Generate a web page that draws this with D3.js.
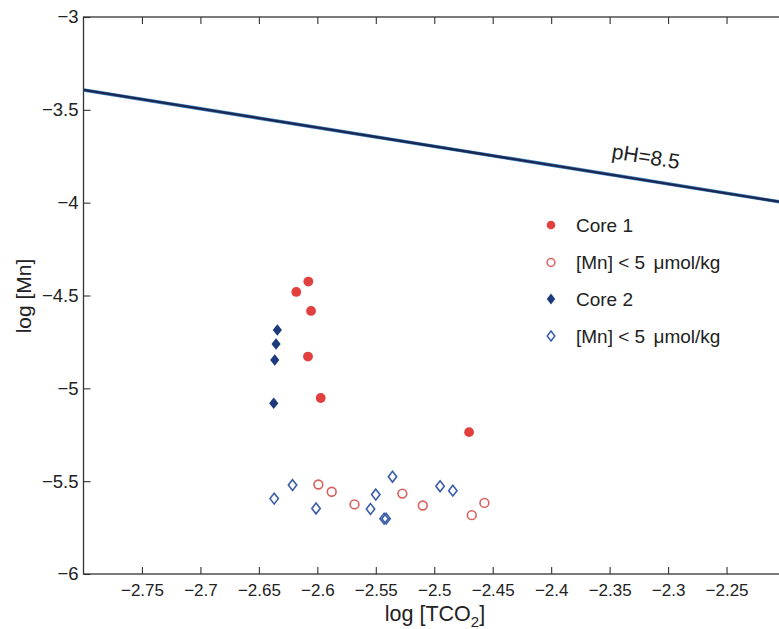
<!DOCTYPE html>
<html>
<head>
<meta charset="utf-8">
<script src="https://cdn.jsdelivr.net/npm/d3@7/dist/d3.min.js"></script>
<style>
  html, body { margin: 0; padding: 0; background: #fff; }
  svg { display: block; }
  text { font-family: "Liberation Sans", Arial, Helvetica, sans-serif; fill: #222; }
</style>
</head>
<body>
<svg id="chart" width="779" height="629"></svg>
<script>
// Core 1: dissolved Mn above 5 µmol/kg (filled) and below (open)
const core1X = [-2.6077, -2.6180, -2.6054, -2.6080, -2.5971, -2.4702];
const core1Y = [-4.425, -4.481, -4.583, -4.829, -5.052, -5.236];
const core1LowX = [-2.5991, -2.5877, -2.5682, -2.5273, -2.5098, -2.4679, -2.4571];
const core1LowY = [-5.518, -5.557, -5.625, -5.567, -5.631, -5.683, -5.617];

// Core 2
const core2X = [-2.6342, -2.6353, -2.6364, -2.6373];
const core2Y = [-4.686, -4.761, -4.847, -5.080];
const core2LowX = [-2.6369, -2.6212, -2.6011, -2.5545, -2.5500, -2.5357, -2.4950, -2.4841, -2.5429, -2.5412];
const core2LowY = [-5.594, -5.521, -5.647, -5.650, -5.572, -5.476, -5.527, -5.551, -5.702, -5.702];

// MnCO3 saturation line at pH 8.5
const phLineX = [-2.8, -2.2];
const phLineY = [-3.393, -4.0];
const phLabel = "pH=8.5";

const xTicks = [-2.75, -2.7, -2.65, -2.6, -2.55, -2.5, -2.45, -2.4, -2.35, -2.3, -2.25];
const xTickLabels = ["-2.75", "-2.7", "-2.65", "-2.6", "-2.55", "-2.5", "-2.45", "-2.4", "-2.35", "-2.3", "-2.25"];
const yTicks = [-3, -3.5, -4, -4.5, -5, -5.5, -6];
const yTickLabels = ["-3", "-3.5", "-4", "-4.5", "-5", "-5.5", "-6"];
const legendLabels = ["Core 1", "[Mn] < 5 \u03BCmol/kg", "Core 2", "[Mn] < 5 \u03BCmol/kg"];

const svg = d3.select("#chart");
const plotLeft = 83.5, plotTop = 17, plotRight = 785, plotBottom = 574;

const x = d3.scaleLinear().domain([-2.8, -2.2]).range([plotLeft, plotRight]);
const y = d3.scaleLinear().domain([-6, -3]).range([plotBottom, plotTop]);

const RED = "#e2403f", RED_OPEN = "#d8605d", NAVY = "#1c3a7c", BLUE_OPEN = "#3b5ea8";
const toMinus = s => s.replace("-", "\u2212");

// plot box
svg.append("rect")
  .attr("x", plotLeft).attr("y", plotTop)
  .attr("width", plotRight - plotLeft).attr("height", plotBottom - plotTop)
  .attr("fill", "none").attr("stroke", "#333").attr("stroke-width", 1.3);

// axes with inward ticks, mirrored on the top edge
const axisStyle = size => g => {
  g.select(".domain").remove();
  g.selectAll(".tick line").attr("stroke", "#333").attr("stroke-width", 1.1);
  g.selectAll(".tick text").style("font-size", size + "px").attr("fill", "#222");
};

svg.append("g").attr("transform", `translate(0,${plotBottom})`)
  .call(d3.axisBottom(x).tickValues(xTicks).tickSize(-7).tickPadding(10)
    .tickFormat((d, i) => toMinus(xTickLabels[i])))
  .call(axisStyle(17));

svg.append("g").attr("transform", `translate(0,${plotTop})`)
  .call(d3.axisTop(x).tickValues(xTicks).tickSize(-7).tickFormat(""))
  .call(axisStyle(17));

svg.append("g").attr("transform", `translate(${plotLeft},0)`)
  .call(d3.axisLeft(y).tickValues(yTicks).tickSize(-7).tickPadding(5)
    .tickFormat((d, i) => toMinus(yTickLabels[i])))
  .call(axisStyle(18.5));

// axis titles
const xt = svg.append("text")
  .attr("x", 435).attr("y", 621)
  .attr("text-anchor", "middle")
  .style("font-size", "21.5px");
xt.append("tspan").text("log [TCO");
xt.append("tspan").attr("dy", 6).style("font-size", "15px").text("2");
xt.append("tspan").attr("dy", -6).text("]");

svg.append("text")
  .attr("transform", "translate(31,296) rotate(-90)")
  .attr("text-anchor", "middle")
  .style("font-size", "21px")
  .text("log [Mn]");

// clip everything drawn inside the plot area
svg.append("clipPath").attr("id", "plotClip")
  .append("rect").attr("x", plotLeft).attr("y", plotTop)
  .attr("width", plotRight - plotLeft).attr("height", plotBottom - plotTop);
const plot = svg.append("g").attr("clip-path", "url(#plotClip)");

// saturation line (drawn as a slightly doubled stroke)
const linePts = phLineX.map((v, i) => [x(v), y(phLineY[i])]);
const lineGen = d3.line();
plot.append("path").attr("d", lineGen(linePts))
  .attr("fill", "none").attr("stroke", "#3f86c0").attr("stroke-width", 3.6);
plot.append("path").attr("d", lineGen(linePts))
  .attr("fill", "none").attr("stroke", "#1b2752").attr("stroke-width", 2.3);

// label along the line
const lx = -2.32, ly = -3.79;
const angle = Math.atan2(y(phLineY[1]) - y(phLineY[0]), x(phLineX[1]) - x(phLineX[0])) * 180 / Math.PI;
svg.append("text")
  .attr("transform", `translate(${x(lx)},${y(ly)}) rotate(${angle})`)
  .attr("text-anchor", "middle")
  .style("font-size", "21px")
  .text(phLabel);

// marker helpers
const diamond = (cx, cy, w, h) => `M${cx},${cy - h}L${cx + w},${cy}L${cx},${cy + h}L${cx - w},${cy}Z`;

const zip = (xs, ys) => xs.map((v, i) => [v, ys[i]]);

plot.selectAll(".c1low").data(zip(core1LowX, core1LowY)).join("circle")
  .attr("cx", d => x(d[0])).attr("cy", d => y(d[1])).attr("r", 4.4)
  .attr("fill", "none").attr("stroke", RED_OPEN).attr("stroke-width", 1.6);

plot.selectAll(".c2low").data(zip(core2LowX, core2LowY)).join("path")
  .attr("d", d => diamond(x(d[0]), y(d[1]), 4.2, 5.4))
  .attr("fill", "none").attr("stroke", BLUE_OPEN).attr("stroke-width", 1.6);

plot.selectAll(".c1").data(zip(core1X, core1Y)).join("circle")
  .attr("cx", d => x(d[0])).attr("cy", d => y(d[1])).attr("r", 4.9)
  .attr("fill", RED);

plot.selectAll(".c2").data(zip(core2X, core2Y)).join("path")
  .attr("d", d => diamond(x(d[0]), y(d[1]), 4.6, 5.8))
  .attr("fill", NAVY);

// legend
const legX = 551, legText = 576, legRows = [225, 262.5, 299, 336];
const leg = svg.append("g");
legendLabels.forEach((lab, i) => {
  const cy = legRows[i];
  if (i === 0) leg.append("circle").attr("cx", legX).attr("cy", cy).attr("r", 4.3).attr("fill", RED);
  if (i === 1) leg.append("circle").attr("cx", legX).attr("cy", cy).attr("r", 3.9)
    .attr("fill", "none").attr("stroke", RED_OPEN).attr("stroke-width", 1.5);
  if (i === 2) leg.append("path").attr("d", diamond(legX, cy, 4.2, 5.4)).attr("fill", NAVY);
  if (i === 3) leg.append("path").attr("d", diamond(legX, cy, 3.8, 5)).attr("fill", "none")
    .attr("stroke", BLUE_OPEN).attr("stroke-width", 1.5);
  const t = leg.append("text").attr("x", legText).attr("y", cy).attr("dy", "0.36em")
    .style("font-size", "19px");
  const mu = lab.indexOf("\u03BC");
  if (mu < 0) {
    t.text(lab);
  } else {
    t.append("tspan").text(lab.slice(0, mu));
    t.append("tspan").attr("dx", 3).text(lab.slice(mu));
  }
});
</script>
</body>
</html>
